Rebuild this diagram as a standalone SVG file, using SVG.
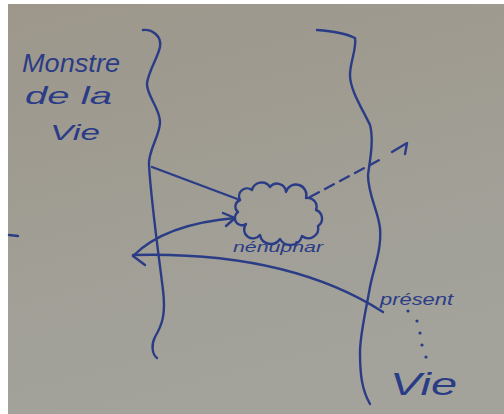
<svg xmlns="http://www.w3.org/2000/svg" width="504" height="414" viewBox="0 0 504 414">
  <defs>
    <linearGradient id="paper" x1="0" y1="0" x2="0.3" y2="1">
      <stop offset="0" stop-color="#9d978b"/>
      <stop offset="1" stop-color="#a3a39c"/>
    </linearGradient>
    <style>
      .ink { fill: none; stroke: #2b3c86; stroke-width: 2.4; stroke-linecap: round; stroke-linejoin: round; }
      .dash { stroke-dasharray: 10 7; }
      .hand { fill: #2b3c86; font-family: "Liberation Sans", "DejaVu Sans", sans-serif; font-style: italic; }
    </style>
  </defs>

  <!-- sheet -->
  <rect x="0" y="0" width="504" height="414" fill="#ffffff"/>
  <rect x="8" y="4" width="496" height="410" fill="url(#paper)"/>

  <!-- the two wavy banks -->
  <g id="left-bank">
    <path class="ink" d="M143,30 C152,29 162,36 160,47 C158,57 149,70 147,83 C146,95 160,108 160,122 C160,136 148,150 149,165 C151,200 158,250 163,290 C166,315 162,325 155,337 C151,345 152,354 157,358"/>
  </g>
  <g id="right-bank">
    <path class="ink" d="M317,30 C330,31 345,33 355,38 C357,48 350,62 350,75 C350,90 362,108 370,125 C374,140 370,160 368,175 C368,195 378,210 380,228 C382,250 373,270 370,287 C366,310 360,335 360,352 C360,375 362,390 370,404"/>
  </g>

  <!-- labels -->
  <g id="monstre">
    <text class="hand" x="22" y="72" font-size="26" textLength="98" lengthAdjust="spacingAndGlyphs">Monstre</text>
    <text class="hand" x="25" y="104" font-size="24" textLength="87" lengthAdjust="spacingAndGlyphs">de la</text>
    <text class="hand" x="50" y="140" font-size="22" textLength="50" lengthAdjust="spacingAndGlyphs">Vie</text>
  </g>

  <!-- cloud -->
  <g id="nenuphar">
    <path class="ink" d="M240,200 a8,8 0 0,1 12,-10 a10,10 0 0,1 18,-3 a9,9 0 0,1 16,5 a10,10 0 0,1 20,6 a9,9 0 0,1 10,12 a9,9 0 0,1 2,16 a10,10 0 0,1 -16,10 a12,12 0 0,1 -22,3 a11,11 0 0,1 -20,-4 a8,8 0 0,1 -14,-11 a7,7 0 0,1 -8,-12 a7,7 0 0,1 2,-12 z"/>
    <text class="hand" x="233" y="252" font-size="15" textLength="90" lengthAdjust="spacingAndGlyphs">nénuphar</text>
  </g>

  <g id="present">
    <text class="hand" x="380" y="305" font-size="16" textLength="73" lengthAdjust="spacingAndGlyphs">présent</text>
    <g fill="#2b3c86">
      <circle cx="408" cy="311" r="1.6"/>
      <circle cx="417" cy="321" r="1.6"/>
      <circle cx="420" cy="333" r="1.6"/>
      <circle cx="422" cy="345" r="1.6"/>
      <circle cx="426" cy="357" r="1.6"/>
    </g>
  </g>

  <g id="vie">
    <text class="hand" x="390" y="395" font-size="32" textLength="67" lengthAdjust="spacingAndGlyphs">Vie</text>
  </g>

  <!-- stray mark -->
  <path class="ink" d="M9,235 L18,236" stroke-width="3"/>

  <!-- connectors -->
  <g id="connectors">
    <path class="ink" d="M152,167 L240,200"/>
    <path class="ink dash" d="M310,197 L385,157"/>
    <path class="ink" d="M392,152 L407,143 L405,154"/>
    <path class="ink" d="M133,256 Q165,224 235,218"/>
    <path class="ink" d="M223,213 L235,218 L226,226"/>
    <path class="ink" d="M383,312 C330,278 250,252 133,255"/>
    <path class="ink" d="M145,265 L133,256"/>
  </g>
</svg>
